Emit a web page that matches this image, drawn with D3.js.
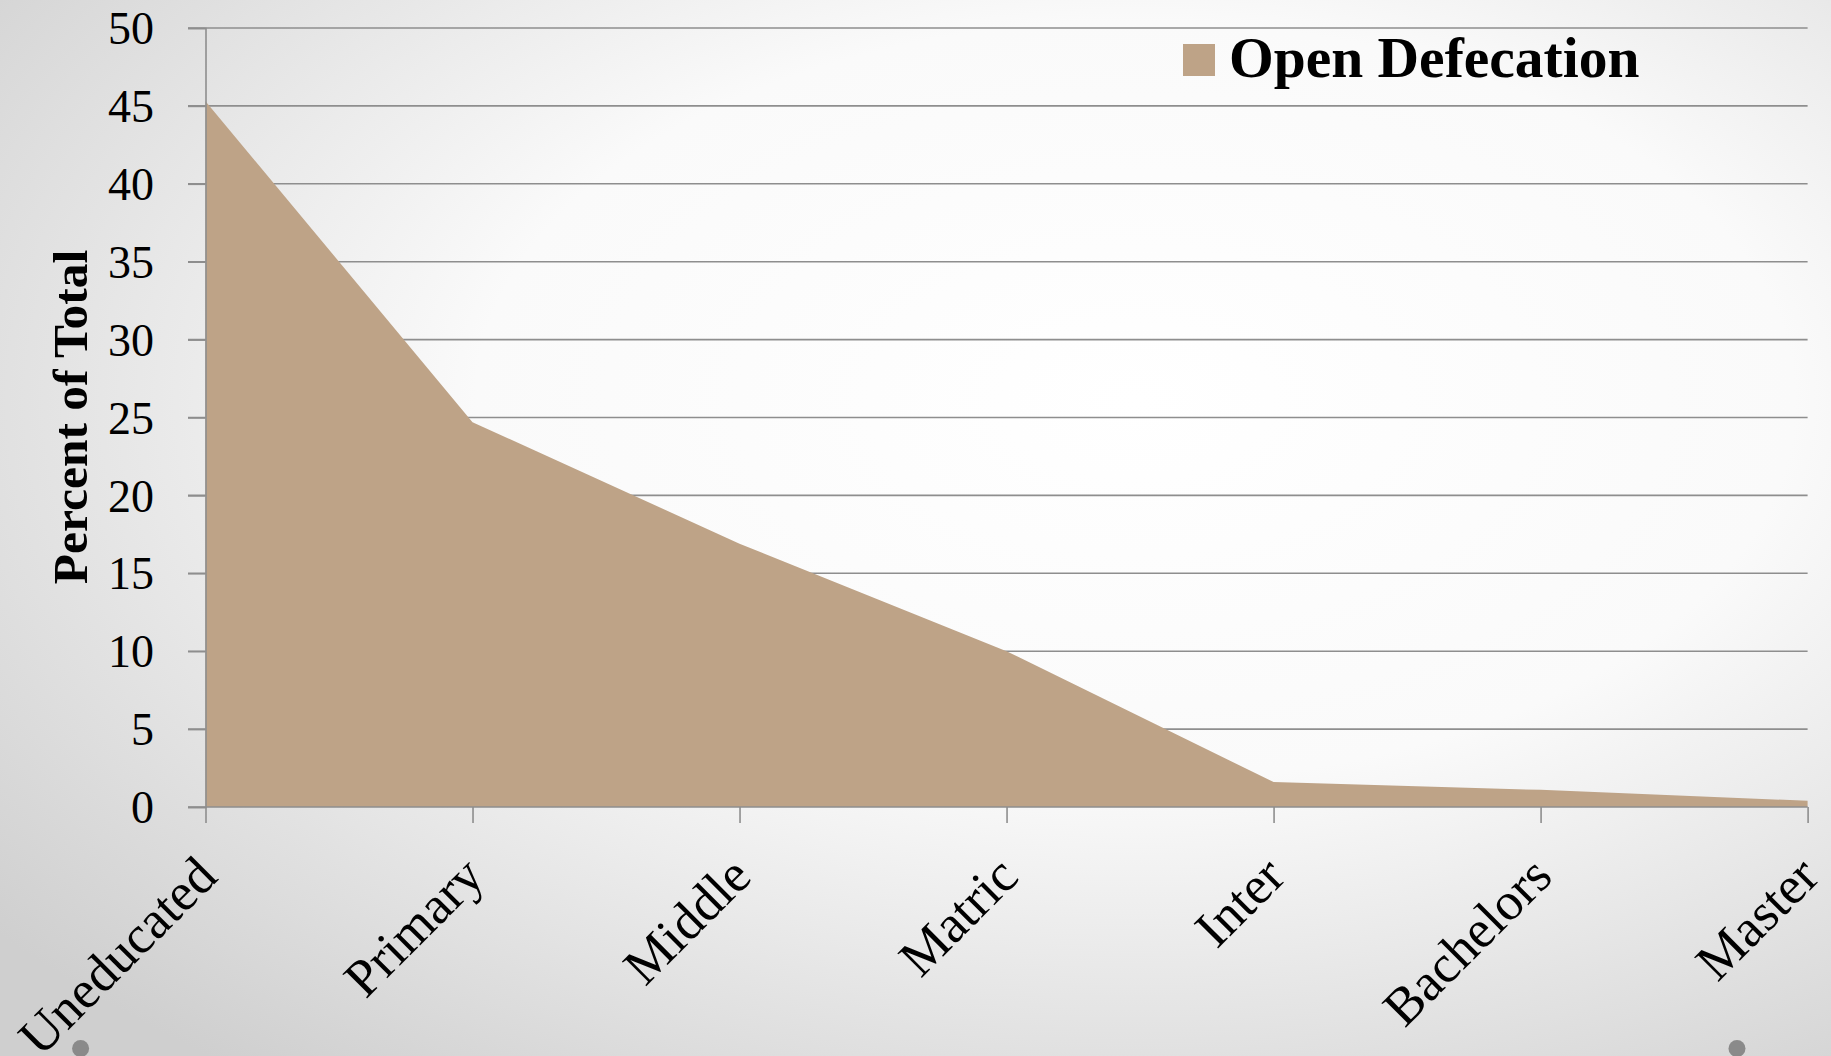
<!DOCTYPE html>
<html>
<head>
<meta charset="utf-8">
<script src="https://cdn.jsdelivr.net/npm/d3@7/dist/d3.min.js"></script>
<style>
html,body{margin:0;padding:0;background:#fff;}
svg{display:block;}
</style>
</head>
<body>
<svg id="chart" width="1831" height="1056"></svg>
<script>
const categories = ["Uneducated","Primary","Middle","Matric","Inter","Bachelors","Master"];
const openDefecation = [45.3, 24.7, 16.9, 10.0, 1.6, 1.1, 0.4];
const yTicks = [0,5,10,15,20,25,30,35,40,45,50];
const seriesName = "Open Defecation";
const yTitle = "Percent of Total";

const W = 1831, H = 1056;
const svg = d3.select("#chart");
const defs = svg.append("defs");
const grad = defs.append("radialGradient").attr("id","bg")
  .attr("cx","0.62").attr("cy","0.38").attr("r","0.8")
  .attr("gradientUnits","objectBoundingBox");
grad.append("stop").attr("offset","0").attr("stop-color","#ffffff");
grad.append("stop").attr("offset","0.45").attr("stop-color","#fafafa");
grad.append("stop").attr("offset","1").attr("stop-color","#cfcfcf");
svg.append("rect").attr("width",W).attr("height",H).attr("fill","url(#bg)");

const x = d3.scalePoint().domain(categories).range([205.5, 1807.6]);
const y = d3.scaleLinear().domain([0,50]).range([807, 28]);
const serif = "'Liberation Serif','Times New Roman',serif";
const gridColor = "#8e8e8e";

// gridlines
svg.append("g").selectAll("line").data(yTicks.filter(d=>d>0)).join("line")
  .attr("x1", 188).attr("x2", x.range()[1])
  .attr("y1", d=>y(d)).attr("y2", d=>y(d))
  .attr("stroke", gridColor).attr("stroke-width", 1.6);

// area
const area = d3.area()
  .x((d,i)=>x(categories[i]))
  .y0(y(0)).y1(d=>y(d));
svg.append("path").datum(openDefecation)
  .attr("d", area).attr("fill", "#bea387");

// y axis
const yAxis = d3.axisLeft(y).tickValues(yTicks).tickSize(17.5).tickPadding(34);
const gy = svg.append("g").attr("transform","translate(205.5,0)").call(yAxis);
gy.select(".domain").attr("stroke", gridColor).attr("stroke-width",1.6);
gy.selectAll(".tick line").attr("stroke", gridColor).attr("stroke-width",1.6);
gy.selectAll(".tick text").attr("font-family", serif).attr("font-size", 46)
  .attr("fill","#000").attr("dy","0.34em");

// x axis
const xAxis = d3.axisBottom(x).tickSize(16).tickFormat(()=>"");
const gx = svg.append("g").attr("transform",`translate(0,${y(0)})`).call(xAxis);
gx.select(".domain").attr("stroke", gridColor).attr("stroke-width",1.6).attr("d", `M188,0H${x.range()[1]}`);
gx.selectAll(".tick line").attr("stroke", gridColor).attr("stroke-width",1.6);

svg.append("g").selectAll("text").data(categories).join("text")
  .attr("transform", d=>`translate(${x(d)+14},${y(0)+72}) rotate(-45)`)
  .attr("text-anchor","end")
  .attr("font-family", serif).attr("font-size", 53).attr("fill","#000")
  .text(d=>d);

// y title
svg.append("text")
  .attr("transform","translate(87,417) rotate(-90)")
  .attr("text-anchor","middle")
  .attr("font-family", serif).attr("font-weight","bold").attr("font-size", 49.5)
  .attr("fill","#000").text(yTitle);

// legend
svg.append("rect").attr("x",1183).attr("y",44).attr("width",32).attr("height",32).attr("fill","#bea387");
svg.append("text").attr("x",1229).attr("y",77)
  .attr("font-family", serif).attr("font-weight","bold").attr("font-size", 57.5)
  .attr("fill","#000").text(seriesName);

// slide decoration dots
svg.append("g").selectAll("circle").data([80.6, 1737]).join("circle")
  .attr("cx", d=>d).attr("cy", 1048.5).attr("r", 8.5).attr("fill", "#8a8a8a");
</script>
</body>
</html>
